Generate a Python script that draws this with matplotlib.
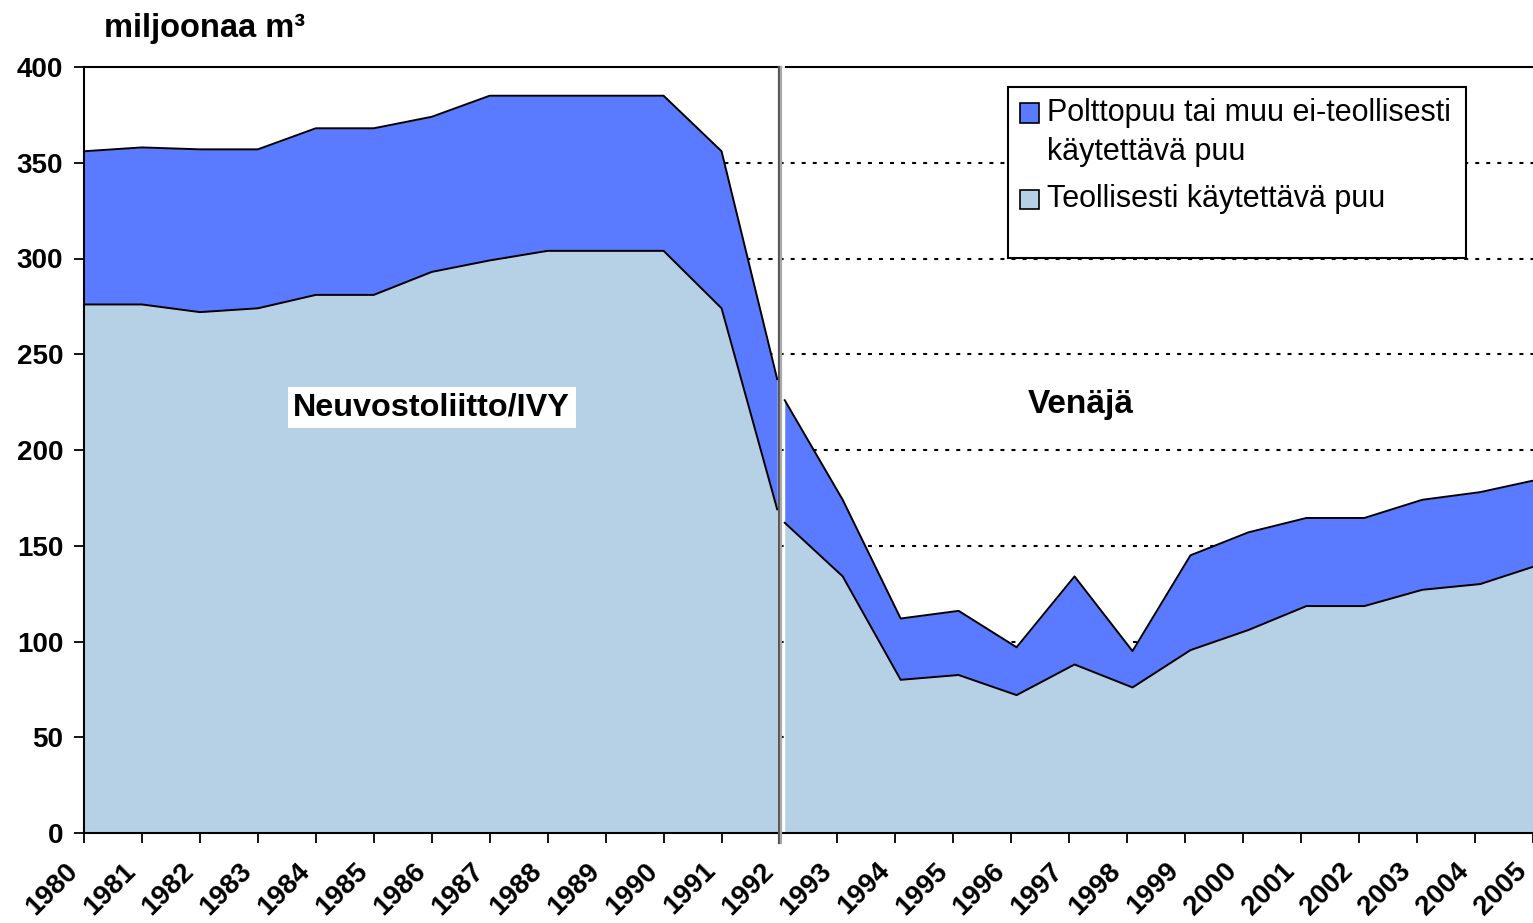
import matplotlib
matplotlib.use("Agg")
import matplotlib.pyplot as plt
from matplotlib.patches import Rectangle
from matplotlib.transforms import ScaledTranslation, blended_transform_factory

plt.rcParams['font.family'] = ['Liberation Sans', 'DejaVu Sans']

# --- data (million m3) ---
years_ussr = [1980, 1981, 1982, 1983, 1984, 1985, 1986, 1987, 1988, 1989, 1990, 1991, 1992]
ussr_industrial = [276, 276, 272, 274, 281, 281, 293, 299, 304, 304, 304, 274, 169]
ussr_total = [356, 358, 357, 357, 368, 368, 374, 385, 385, 385, 385, 356, 237]

years_russia = [1992, 1993, 1994, 1995, 1996, 1997, 1998, 1999, 2000, 2001, 2002, 2003, 2004, 2005]
russia_industrial = [162, 134, 80, 82.5, 72, 88, 76, 95.5, 106, 118.5, 118.5, 127, 130, 139]
russia_total = [226, 174, 112, 116, 97, 134, 95, 145, 157, 164.5, 164.5, 174, 178, 184]

tick_years = list(range(1980, 2006))
y_ticks = [0, 50, 100, 150, 200, 250, 300, 350, 400]

legend_lines_fuel = ["Polttopuu tai muu ei-teollisesti", "käytettävä puu"]
legend_line_ind = "Teollisesti käytettävä puu"

c_fuel = "#5A7BFF"
c_ind = "#B6D0E6"

W, H = 1533, 923
fig = plt.figure(figsize=(W / 100, H / 100), dpi=100)
ax = fig.add_axes([84 / W, 90 / H, 1 - 84 / W, (833 - 67) / H])

# gridlines (behind areas)
for v in [50, 100, 150, 200, 250, 300, 350]:
    ax.axhline(v, color="black", lw=1.5, ls=(0, (1.9, 3.4)), zorder=0)

# shift Russia slightly right of the divider
off = 0.09
yr = [y + off for y in years_russia]
yr[-1] = years_russia[-1]
yu = list(years_ussr)
yu[-1] = years_ussr[-1] - 0.04

ax.fill_between(yu, 0, ussr_industrial, color=c_ind, lw=0, zorder=1)
ax.fill_between(yu, ussr_industrial, ussr_total, color=c_fuel, lw=0, zorder=1)
ax.plot(yu, ussr_industrial, color="black", lw=1.4, zorder=2)
ax.plot(yu, ussr_total, color="black", lw=1.4, zorder=2)

ax.fill_between(yr, 0, russia_industrial, color=c_ind, lw=0, zorder=1)
ax.fill_between(yr, russia_industrial, russia_total, color=c_fuel, lw=0, zorder=1)
ax.plot(yr, russia_industrial, color="black", lw=1.4, zorder=2)
ax.plot(yr, russia_total, color="black", lw=1.4, zorder=2)

# divider
ax.plot([1992 - 0.015, 1992 - 0.015], [-5.2, 400], color="#555555", lw=1.6, zorder=4, clip_on=False)
ax.plot([1992 + 0.02, 1992 + 0.02], [-5.2, 400], color="#aaaaaa", lw=1.6, zorder=4, clip_on=False)
ax.plot([1992 + 0.065, 1992 + 0.065], [398, 401], color="white", lw=2, zorder=5, clip_on=False)

ax.set_xlim(1980, 2005)
ax.set_ylim(0, 400)

for s in ["left", "bottom", "top"]:
    ax.spines[s].set_linewidth(1.5)
    ax.spines[s].set_color("black")
ax.spines["right"].set_visible(False)

ax.set_yticks(y_ticks)
ax.set_yticklabels([str(v) for v in y_ticks], fontsize=20, fontweight="bold")
ax.set_xticks(tick_years)
ax.set_xticklabels([str(y) for y in tick_years], fontsize=20, fontweight="bold",
                   rotation=45, ha="right", va="center", rotation_mode="anchor")
ax.tick_params(axis="both", direction="out", length=7, width=1.3, color="black")
ax.tick_params(axis="y", pad=8)
ax.tick_params(axis="x", pad=17.5)
for lab in ax.get_xticklabels():
    lab.set_transform(lab.get_transform() + ScaledTranslation(-0.10, 0, fig.dpi_scale_trans))

# region labels
ax.text(1986.0, 222, "Neuvostoliitto/IVY", fontsize=23.3, fontweight="bold", ha="center", va="center",
        bbox=dict(facecolor="white", edgecolor="none", pad=4), zorder=6)
ax.text(1997.2, 224, "Venäjä", fontsize=24, fontweight="bold", ha="center", va="center", zorder=6)

# title / unit
fig.text(104 / W, 1 - 37 / H, "miljoonaa m³", fontsize=23.5, fontweight="bold", ha="left", va="baseline")

# legend (manual, pixel-positioned in figure)
def fx(px):
    return px / W

def fy(py):
    return 1 - py / H

fig.patches.append(Rectangle((fx(1008), fy(258)), fx(1466) - fx(1008), fy(87) - fy(258),
                             transform=fig.transFigure, facecolor="white", edgecolor="black",
                             lw=1.5, zorder=7))
fig.patches.append(Rectangle((fx(1020), fy(123)), fx(1039) - fx(1020), fy(103) - fy(123),
                             transform=fig.transFigure, facecolor=c_fuel, edgecolor="black",
                             lw=1.2, zorder=8))
fig.patches.append(Rectangle((fx(1020), fy(209)), fx(1039) - fx(1020), fy(190) - fy(209),
                             transform=fig.transFigure, facecolor=c_ind, edgecolor="black",
                             lw=1.2, zorder=8))
fig.text(fx(1047), fy(113), legend_lines_fuel[0], fontsize=22, ha="left", va="center", zorder=9)
fig.text(fx(1047), fy(152), legend_lines_fuel[1], fontsize=22, ha="left", va="center", zorder=9)
fig.text(fx(1047), fy(199), legend_line_ind, fontsize=22, ha="left", va="center", zorder=9)

fig.savefig("out.png", dpi=100)
